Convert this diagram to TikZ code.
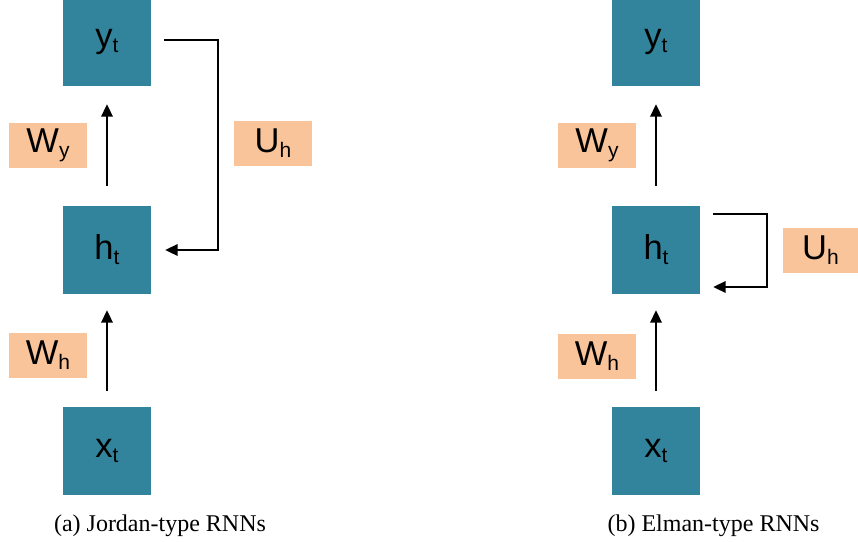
\documentclass[tikz,border=0pt]{standalone}
\usepackage{fontspec}
\setmainfont{Liberation Sans}
\newfontfamily\capfont{Liberation Serif}
\usetikzlibrary{arrows.meta}
\definecolor{tealbox}{RGB}{49,132,155}
\definecolor{peach}{RGB}{249,196,153}
\newcommand\bt[2]{{\fontsize{34.5}{34.5}\selectfont #1\raisebox{-5pt}{\fontsize{21}{21}\selectfont #2}}}
\begin{document}
\begin{tikzpicture}[x=1pt,y=-1pt,
  cell/.style={fill=tealbox, minimum width=88pt, minimum height=88pt, inner sep=0pt},
  wlab/.style={fill=peach, minimum width=78pt, minimum height=45pt, inner sep=0pt},
  arr/.style={line width=2pt, line join=miter, -{Triangle[length=12.5pt,width=11.5pt]}},
  captext/.style={font=\capfont\fontsize{24}{24}\selectfont, anchor=base}]
\useasboundingbox (0,0) rectangle (858,541);
% left: Jordan
\node[cell] (y1) at (107,42) {\bt{y}{t}};
\node[cell] (h1) at (107,250) {\bt{h}{t}};
\node[cell] (x1) at (107,451) {\bt{x}{t}};
\node[wlab] (wy1) at (48,145.5) {\bt{W}{y}};
\node[wlab] (uh1) at (273,143.5) {\bt{U}{h}};
\node[wlab] (wh1) at (48,355.5) {\bt{W}{h}};
\draw[arr] ([yshift=20pt]h1.north) -- ([yshift=-18pt]y1.south);
\draw[arr] ([yshift=16pt]x1.north) -- ([yshift=-16pt]h1.south);
\draw[arr] ([shift={(13pt,2.5pt)}]y1.east) -| ([xshift=67pt]h1.east) -- ([xshift=14pt]h1.east);
% right: Elman
\node[cell] (y2) at (656,42) {\bt{y}{t}};
\node[cell] (h2) at (656,250) {\bt{h}{t}};
\node[cell] (x2) at (656,451) {\bt{x}{t}};
\node[wlab] (wy2) at (597,145.5) {\bt{W}{y}};
\node[wlab, minimum width=75pt] (uh2) at (820.5,250.5) {\bt{U}{h}};
\node[wlab] (wh2) at (597,356) {\bt{W}{h}};
\draw[arr] ([yshift=20pt]h2.north) -- ([yshift=-18pt]y2.south);
\draw[arr] ([yshift=16pt]x2.north) -- ([yshift=-16pt]h2.south);
\draw[arr] ([shift={(13pt,36pt)}]h2.east) -| ([shift={(67pt,-37pt)}]h2.east) -- ([shift={(13pt,-37pt)}]h2.east);
% captions
\node[captext] (ca) at (160,531) {(a) Jordan-type RNNs};
\node[captext] (cb) at (713.5,531) {(b) Elman-type RNNs};
\end{tikzpicture}
\end{document}
